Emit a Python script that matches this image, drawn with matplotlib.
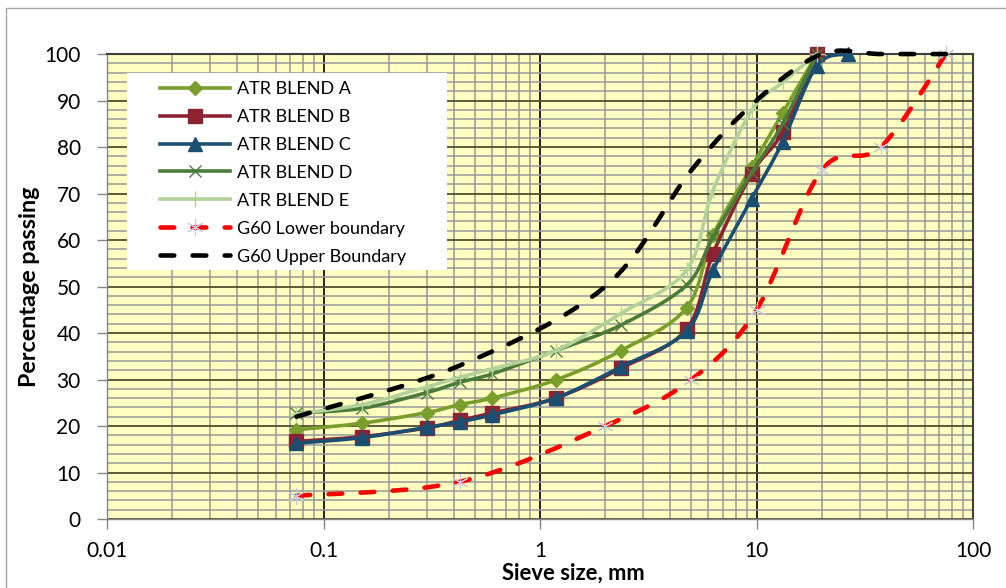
import numpy as np
import matplotlib
matplotlib.use("Agg")
import matplotlib.pyplot as plt
from matplotlib.lines import Line2D
from matplotlib.patches import PathPatch, Rectangle
from matplotlib.path import Path
from matplotlib.ticker import LogLocator, MultipleLocator, NullFormatter

plt.rcParams["font.family"] = ["Lato", "DejaVu Sans"]

# sieve sizes (mm) and percentage passing
sieve = [0.075, 0.15, 0.3, 0.425, 0.6, 1.18, 2.36, 4.75, 6.3, 9.5, 13.2, 19]
sieve_c = [0.075, 0.15, 0.3, 0.425, 0.6, 1.18, 2.36, 4.75, 6.3, 9.5, 13.2, 19, 26.5]
blend_a = [19.2, 20.6, 22.9, 24.6, 26.0, 29.9, 36.2, 45.4, 61.0, 75.8, 87.3, 100]
blend_b = [16.7, 17.7, 19.6, 21.2, 22.8, 26.0, 32.4, 40.8, 57.1, 74.3, 83.2, 100]
blend_c = [16.3, 17.5, 19.7, 20.9, 22.4, 26.0, 32.7, 40.4, 53.5, 68.9, 81.1, 97.5, 100]
blend_d = [22.8, 23.8, 27.2, 29.4, 31.2, 36.2, 41.7, 50.3, 60.7, 74.5, 85.0, 100]
blend_e = [22.6, 24.6, 28.4, 30.5, 32.3, 36.2, 44.2, 53.5, 70.7, 87.9, 93.9, 100]

# G60 grading envelope
g60_sieve = [0.075, 0.425, 2, 5, 10, 20, 37.5, 75]
g60_lower = [5, 8, 20, 30, 45, 75, 80, 100]
g60_upper = [22, 33, 50, 75, 90, 100, 100, 100]

x_ticks = [0.01, 0.1, 1, 10, 100]
x_tick_labels = ["0.01", "0.1", "1", "10", "100"]


def smooth_path(x, y):
    # cardinal spline through the points in (log x, y) space, as cubic Beziers
    pts = np.column_stack([np.log10(x), y])
    n = len(pts)
    verts = [pts[0]]
    codes = [Path.MOVETO]
    for i in range(n - 1):
        p0 = pts[max(i - 1, 0)]
        p1, p2 = pts[i], pts[i + 1]
        p3 = pts[min(i + 2, n - 1)]
        verts += [p1 + (p2 - p0) / 6, p2 - (p3 - p1) / 6, p2]
        codes += [Path.CURVE4] * 3
    verts = np.array(verts)
    verts[:, 0] = 10 ** verts[:, 0]
    return Path(verts, codes)


dash = (0, (3.0, 4.0))
series = [
    ("ATR BLEND A", sieve, blend_a, "#7A9E2B", "-", dict(marker="D", ms=6.8)),
    ("ATR BLEND B", sieve, blend_b, "#8C2232", "-", dict(marker="s", ms=9.5)),
    ("ATR BLEND C", sieve_c, blend_c, "#1B4F72", "-", dict(marker="^", ms=10)),
    ("ATR BLEND D", sieve, blend_d, "#4A7B3B", "-", dict(marker="x", ms=9, mew=1)),
    ("ATR BLEND E", sieve, blend_e, "#B2D29A", "-", dict(marker="+", ms=11, mew=1)),
    ("G60 Lower boundary", g60_sieve, g60_lower, "#FF0000", dash,
     dict(marker=(6, 2, 0), ms=12, mew=0.8, mec="#C8C8D8")),
    ("G60 Upper Boundary", g60_sieve, g60_upper, "#000000", dash, None),
]

fig = plt.figure(figsize=(10.06, 5.88), dpi=100)
ax = fig.add_axes([0.1064, 0.1173, 0.8608, 0.7908])
ax.set_facecolor("#FFFFC0")

handles = []
for k, (label, xs, ys, color, ls, mk) in enumerate(series):
    z = 3 + k
    dashed = ls != "-"
    lw = 3.3 if dashed else 2.6
    ax.add_patch(PathPatch(smooth_path(xs, ys), facecolor="none", edgecolor=color,
                           lw=lw, linestyle=ls, capstyle="round", joinstyle="round",
                           clip_on=False, zorder=z))
    if mk is not None:
        style = dict(color=color, mfc=color, mec=mk.get("mec", color))
        style.update({key: v for key, v in mk.items() if key != "mec"})
        ax.plot(xs, ys, linestyle="none", clip_on=False, zorder=z + 0.5, **style)
        handles.append(Line2D([], [], lw=lw, linestyle=ls, dash_capstyle="round",
                              label=label, **style))
    else:
        handles.append(Line2D([], [], color=color, lw=lw, linestyle=ls,
                              dash_capstyle="round", label=label))

ax.set_xscale("log")
ax.set_xlim(0.01, 100)
ax.set_ylim(0, 100)
ax.set_xticks(x_ticks, x_tick_labels)
ax.xaxis.set_minor_locator(LogLocator(base=10, subs=np.arange(2, 10)))
ax.xaxis.set_minor_formatter(NullFormatter())
ax.set_yticks(np.arange(0, 101, 10))
ax.yaxis.set_minor_locator(MultipleLocator(2))

ax.set_axisbelow(True)
ax.grid(which="minor", color="#999999", lw=1.1)
ax.grid(which="major", axis="x", color="#000000", lw=1.2)
ax.grid(which="major", axis="y", color="#4E4E30", lw=1.3)

ax.tick_params(which="minor", length=0)
ax.tick_params(which="major", length=7, width=1, color="#868686", labelsize=15)
ax.tick_params(axis="y", pad=12)
ax.tick_params(axis="x", pad=9)

for side in ("left", "bottom"):
    ax.spines[side].set_color("#868686")
    ax.spines[side].set_linewidth(1)
for side in ("top", "right"):
    ax.spines[side].set_color("#404040")
    ax.spines[side].set_linewidth(1.5)

ax.set_xlabel("Sieve size, mm", fontsize=15.8, fontweight="bold")
ax.xaxis.set_label_coords(0.539, -0.095)
ax.set_ylabel("Percentage passing", fontsize=16.8, fontweight="bold")
ax.yaxis.set_label_coords(-0.077, 0.5)

# white legend panel
ax.add_patch(Rectangle((20 / 866, 249 / 465), 320 / 866, 197 / 465, transform=ax.transAxes,
                       facecolor="white", edgecolor="none", clip_on=False, zorder=19))
leg = ax.legend(handles=handles, loc="upper left", bbox_to_anchor=(0.0612, 0.942),
                borderaxespad=0, borderpad=0, fontsize=13, numpoints=1,
                handlelength=3.9, handletextpad=0.35, labelspacing=0.66, frameon=False)
leg.set_zorder(20)

# chart-area border
fig.patches.append(Rectangle((6 / 1006, -0.1), 1.2, 1.1 - 8 / 588, transform=fig.transFigure,
                             fill=False, edgecolor="#A6A6A6", lw=1))

fig.savefig("out.png", dpi=100)
plt.close(fig)
